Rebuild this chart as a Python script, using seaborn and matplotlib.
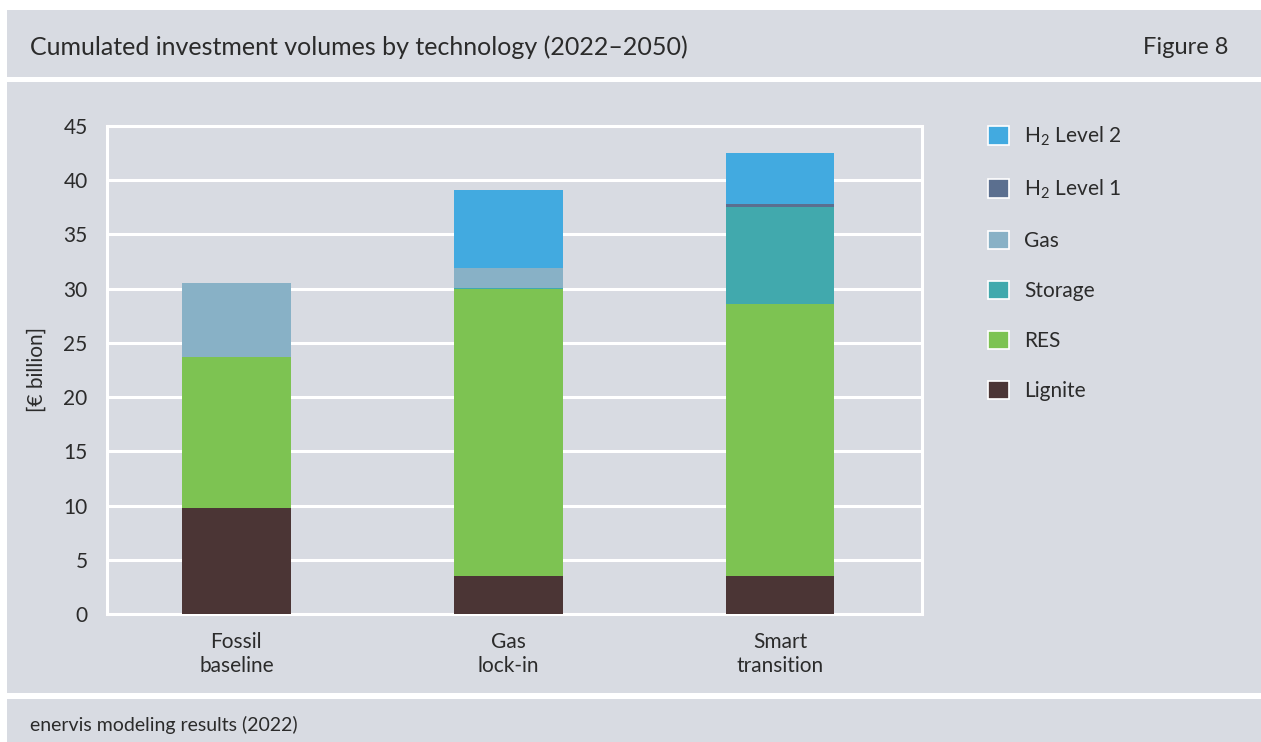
import matplotlib
matplotlib.use("Agg")
import matplotlib.pyplot as plt
from matplotlib.patches import Rectangle, Patch
import numpy as np
import pandas as pd
import seaborn as sns

# Scenario categories and investment volumes per technology [€ billion]
scenarios = ["Fossil\nbaseline", "Gas\nlock-in", "Smart\ntransition"]
lignite = [9.8, 3.5, 3.5]
res = [13.9, 26.5, 25.1]
storage = [0.0, 0.1, 8.9]
gas = [6.8, 1.8, 0.0]
h2_level1 = [0.0, 0.0, 0.3]
h2_level2 = [0.0, 7.2, 4.7]

yticks = [0, 5, 10, 15, 20, 25, 30, 35, 40, 45]

# stacking order from bottom to top
layers = [
    ("Lignite", lignite, "#4b3535"),
    ("RES", res, "#7dc352"),
    ("Storage", storage, "#41a9ad"),
    ("Gas", gas, "#88b1c6"),
    ("H$_2$ Level 1", h2_level1, "#5b6f8f"),
    ("H$_2$ Level 2", h2_level2, "#42aae0"),
]

PANEL = "#d8dbe2"
TEXT = "#2b2b2b"

sns.set_theme(style="white")
plt.rcParams["font.family"] = ["Lato", "DejaVu Sans"]
plt.rcParams["mathtext.fontset"] = "custom"
plt.rcParams["mathtext.rm"] = "Lato"
plt.rcParams["mathtext.it"] = "Lato:italic"
plt.rcParams["text.color"] = TEXT

W, H = 1261, 742
fig = plt.figure(figsize=(W / 100, H / 100), dpi=100, facecolor="white")


def panel(x0, y0, x1, y1):
    fig.patches.append(Rectangle((x0 / W, 1 - y1 / H), (x1 - x0) / W, (y1 - y0) / H,
                                 transform=fig.transFigure, facecolor=PANEL,
                                 edgecolor="none", zorder=-5))


panel(7, 10, 1261, 77)
panel(7, 82, 1261, 693)
panel(7, 699, 1261, 742)

fig.text(30 / W, 1 - 47 / H, "Cumulated investment volumes by technology (2022–2050)",
         fontsize=18, va="center", ha="left", color=TEXT)
fig.text(1228 / W, 1 - 47 / H, "Figure 8", fontsize=17, va="center", ha="right", color=TEXT)
fig.text(30 / W, 1 - 725 / H, "enervis modeling results (2022)",
         fontsize=14, va="center", ha="left", color=TEXT)

ax_l, ax_r, ax_t, ax_b = 107, 922, 126, 614
ax = fig.add_axes([ax_l / W, 1 - ax_b / H, (ax_r - ax_l) / W, (ax_b - ax_t) / H])
ax.set_facecolor(PANEL)

# cumulative tops, drawn from the highest layer down so each covers the one above
df = pd.DataFrame({name: vals for name, vals, _ in layers}, index=scenarios)
cum = df.cumsum(axis=1)
for name, _, color in reversed(layers):
    sns.barplot(x=list(cum.index), y=cum[name].values, color=color, width=0.4,
                linewidth=0, saturation=1, ax=ax, zorder=3)

ax.set_ylim(0, 45)
ax.set_xlim(-0.476, 2.522)
ax.set_yticks(yticks)
ax.set_yticklabels([str(t) for t in yticks])
ax.yaxis.grid(True, color="white", linewidth=2.2, zorder=1)
ax.set_axisbelow(True)
for s in ax.spines.values():
    s.set_color("white")
    s.set_linewidth(2.2)
ax.tick_params(axis="both", length=0, labelsize=15, colors=TEXT)
ax.tick_params(axis="y", pad=14)
ax.tick_params(axis="x", pad=13)
for lbl in ax.get_xticklabels():
    lbl.set_linespacing(1.25)
ax.set_xlabel("")
ax.set_ylabel("[€ billion]", fontsize=15, color=TEXT, labelpad=12)

handles = [Patch(facecolor=c, edgecolor="white", linewidth=1.2, label=n)
           for n, _, c in reversed(layers)]
fig.legend(handles=handles, loc="upper left", bbox_to_anchor=(969 / W, 1 - 106 / H),
           frameon=False, fontsize=15, handlelength=1.0, handleheight=1.0,
           labelspacing=1.42, handletextpad=0.75, labelcolor=TEXT)

fig.savefig("out.png", dpi=100, facecolor="white")
